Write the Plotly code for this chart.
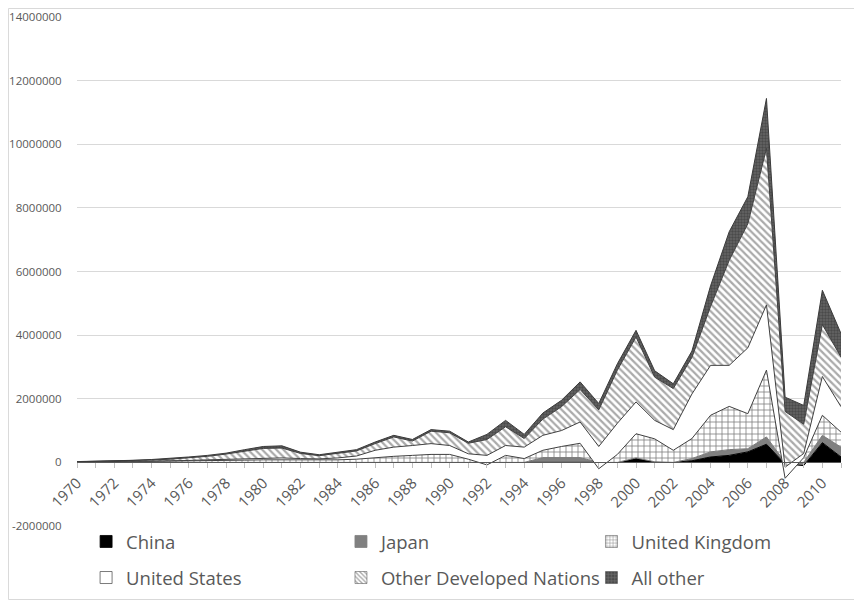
import plotly.graph_objects as go

years = [1970, 1971, 1972, 1973, 1974, 1975, 1976, 1977, 1978, 1979,
         1980, 1981, 1982, 1983, 1984, 1985, 1986, 1987, 1988, 1989,
         1990, 1991, 1992, 1993, 1994, 1995, 1996, 1997, 1998, 1999,
         2000, 2001, 2002, 2003, 2004, 2005, 2006, 2007, 2008, 2009,
         2010, 2011]

china = [0, 0, 0, 0, 0, 0, 0, 0, 0, 0,
         0, 0, 0, 0, 0, 0, 0, 0, 0, 0,
         0, 0, 0, 0, 0, 0, 0, 0, 0, 0,
         120000, 20000, 0, 50000, 170000, 220000, 330000, 570000, -50000, -100000,
         620000, 170000]

japan = [0, 0, 0, 0, 0, 0, 0, 0, 0, 0,
         0, 0, 0, 0, 0, 0, 0, 0, 0, 0,
         0, 0, 0, 0, 0, 150000, 150000, 150000, 0, 0,
         20000, 0, 0, 70000, 160000, 180000, 100000, 230000, 50000, 100000,
         230000, 310000]

united_kingdom = [5000, 10000, 15000, 20000, 25000, 30000, 40000, 50000, 60000, 70000,
                  80000, 80000, 70000, 60000, 80000, 100000, 150000, 190000, 220000, 250000,
                  250000, 100000, -80000, 220000, 120000, 230000, 350000, 450000, -200000, 250000,
                  760000, 720000, 380000, 630000, 1150000, 1360000, 1100000, 2100000, -500000, 150000,
                  630000, 470000]

united_states = [5000, 5000, 5000, 10000, 15000, 20000, 20000, 30000, 40000, 50000,
                 60000, 60000, 50000, 50000, 60000, 100000, 230000, 290000, 310000, 340000,
                 280000, 170000, 300000, 310000, 360000, 470000, 500000, 670000, 700000, 980000,
                 1000000, 580000, 650000, 1400000, 1570000, 1290000, 2070000, 2050000, 350000, 130000,
                 1220000, 800000]

other_developed = [10000, 15000, 20000, 25000, 35000, 50000, 80000, 110000, 160000, 230000,
                   300000, 310000, 160000, 100000, 140000, 160000, 210000, 320000, 140000, 390000,
                   400000, 330000, 500000, 590000, 270000, 510000, 750000, 1020000, 1150000, 1670000,
                   2040000, 1360000, 1290000, 1150000, 1850000, 3300000, 3900000, 4920000, 1750000, 920000,
                   1630000, 1560000]

all_other = [5000, 5000, 10000, 10000, 15000, 20000, 30000, 30000, 30000, 50000,
             60000, 70000, 40000, 30000, 40000, 40000, 50000, 50000, 50000, 50000,
             50000, 40000, 160000, 200000, 130000, 190000, 200000, 240000, 200000, 200000,
             210000, 200000, 150000, 200000, 650000, 900000, 850000, 1570000, 450000, 590000,
             1080000, 740000]

series_names = ["China", "Japan", "United Kingdom", "United States",
                "Other Developed Nations", "All other"]
series_values = [china, japan, united_kingdom, united_states, other_developed, all_other]

x_tick_labels = [str(y) if y % 2 == 0 else "" for y in years]
y_tick_values = [-2000000, 0, 2000000, 4000000, 6000000, 8000000, 10000000, 12000000, 14000000]
y_tick_labels = ["-2000000", "0", "2000000", "4000000", "6000000", "8000000",
                 "10000000", "12000000", "14000000"]

FONT = "Open Sans"
TXT = "#595959"

# style per series: fill colour, pattern, outline, legend id
styles = [
    dict(fill="#000000", pattern=None, line="#000000", legend="legend"),
    dict(fill="#808080", pattern=None, line="#7a7a7a", legend="legend2"),
    dict(fill="#ffffff", pattern=dict(shape="+", fgcolor="#000000", bgcolor="#ffffff",
                                      size=6, solidity=0.25), line="#404040", legend="legend3"),
    dict(fill="#ffffff", pattern=None, line="#404040", legend="legend"),
    dict(fill="#ffffff", pattern=dict(shape="\\", fgcolor="#555555", bgcolor="#ffffff",
                                      size=5, solidity=0.45), line="#404040", legend="legend2"),
    dict(fill="#4f4f4f", pattern=dict(shape=".", fgcolor="#2e2e2e", bgcolor="#666666",
                                      size=3, solidity=0.5), line="#3a3a3a", legend="legend3"),
]

fig = go.Figure()

for name, vals, st in zip(series_names, series_values, styles):
    kw = dict(x=years, y=vals, name=name, mode="lines", stackgroup="one",
              line=dict(color=st["line"], width=1), fillcolor=st["fill"],
              showlegend=False, legendgroup=name, hoverinfo="x+y+name")
    if st["pattern"] is not None:
        kw["fillpattern"] = st["pattern"]
    fig.add_trace(go.Scatter(**kw))

# legend proxies (square swatches like the original)
for name, st in zip(series_names, styles):
    if st["pattern"] is not None:
        p = dict(st["pattern"])
        p["size"] = 4
        marker = dict(color=st["fill"], pattern=p, line=dict(color="#404040", width=0.5))
    elif st["fill"] == "#ffffff":
        marker = dict(color=st["fill"], line=dict(color="#595959", width=0.8))
    else:
        marker = dict(color=st["fill"], line=dict(color=st["fill"], width=0.8))
    fig.add_trace(go.Bar(x=[None], y=[None], name=name, marker=marker,
                         legend=st["legend"], legendgroup=name, showlegend=True,
                         hoverinfo="skip"))

legend_common = dict(orientation="v", xanchor="left", yanchor="top",
                     font=dict(family=FONT, size=18.5, color=TXT),
                     bgcolor="rgba(0,0,0,0)", tracegroupgap=9, traceorder="grouped",
                     itemclick=False, itemdoubleclick=False)

fig.update_layout(
    width=854, height=592,
    paper_bgcolor="white", plot_bgcolor="white",
    margin=dict(l=69, r=21, t=9, b=74, autoexpand=False),
    font=dict(family=FONT, color=TXT),
    showlegend=True,
    legend=dict(x=0.0119, y=0.006, **legend_common),
    legend2=dict(x=0.3455, y=0.006, **legend_common),
    legend3=dict(x=0.6734, y=0.006, **legend_common),
    xaxis=dict(range=[1970, 2011], anchor="free", position=0.125,
               tickmode="array", tickvals=years, ticktext=x_tick_labels,
               tickangle=-45, ticks="outside", ticklen=5, tickcolor="#bfbfbf",
               showline=True, linecolor="#595959", linewidth=1,
               showgrid=False, zeroline=False,
               tickfont=dict(family=FONT, size=15, color=TXT)),
    yaxis=dict(range=[-2000000, 14000000], tickmode="array",
               tickvals=y_tick_values, ticktext=y_tick_labels,
               showgrid=True, gridcolor="#d9d9d9", gridwidth=1,
               zeroline=False, showline=False,
               ticks="outside", ticklen=12, tickcolor="rgba(0,0,0,0)",
               tickfont=dict(family=FONT, size=11.5, color=TXT)),
    shapes=[dict(type="rect", xref="paper", yref="paper",
                 x0=-0.0897, x1=1.0268, y0=-0.1444, y1=1.0167,
                 line=dict(color="#d9d9d9", width=1), fillcolor="rgba(0,0,0,0)",
                 layer="below")],
)

fig.write_html("out.html")
